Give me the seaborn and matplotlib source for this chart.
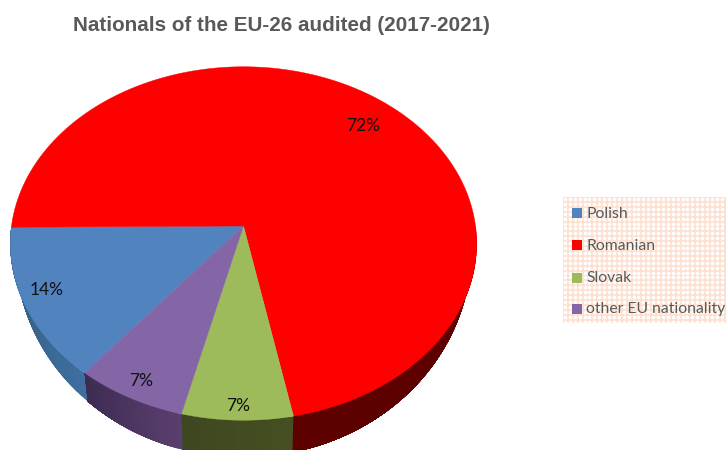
import numpy as np
import matplotlib
matplotlib.use("Agg")
import matplotlib.pyplot as plt
from matplotlib.colors import to_rgb
from matplotlib.patches import Rectangle
import seaborn as sns

# Shares of audited EU-26 nationals, in percent
nationalities = ["Polish", "Romanian", "Slovak", "other EU nationality"]
shares = [14, 72, 7, 7]
share_labels = ["14%", "72%", "7%", "7%"]
title_text = "Nationals of the EU-26 audited (2017-2021)"

top_colors = ["#5183bf", "#ff0000", "#9dbb5b", "#8465a6"]
wall_light = ["#3f6f9e", "#5c0000", "#454f22", "#5a3f6e"]
wall_dark = ["#2f5577", "#5c0000", "#3e4720", "#3c2c52"]
palette = sns.color_palette(top_colors)

sns.set_theme(style="white")
plt.rcParams["font.family"] = ["Lato", "DejaVu Sans"]

W, H = 726, 450
fig = plt.figure(figsize=(W / 100, H / 100), dpi=100, facecolor="white")
ax = fig.add_axes([0, 0, 1, 1])
ax.set_xlim(0, W)
ax.set_ylim(H, 0)
ax.axis("off")

# Perspective projection of the pie disc onto the canvas
CX, CY, A, B, K = 243.5, 226.0, 232.0, 175.0, 0.099


def project_top(theta):
    u, v = np.cos(theta), np.sin(theta)
    d = 1 + K * v
    return CX + A * u / d, CY - B * v / d


def project_base(theta):
    x, y = project_top(theta)
    return CX + 0.98 * (x - CX), y - 37 * np.sin(theta)


# Slice boundaries run clockwise from the lower left
start = np.deg2rad(230.8)
fractions = np.array(shares, dtype=float) / sum(shares)
edges = start - 2 * np.pi * np.concatenate([[0], np.cumsum(fractions)])

# Side wall: front part of the disc, shaded in overlapping strips
for i in range(len(shares)):
    th = np.linspace(edges[i], edges[i + 1], 400)
    th = th[np.sin(th) < 0]
    if len(th) < 2:
        continue
    light, dark = np.array(to_rgb(wall_light[i])), np.array(to_rgb(wall_dark[i]))
    chunks = np.array_split(np.arange(len(th)), 30)
    for n, idx in enumerate(chunks):
        # each strip runs on to the end so no seams show between strips
        seg = th[idx[0]:]
        xt, yt = project_top(seg)
        xb, yb = project_base(seg)
        col = light + (dark - light) * (n / (len(chunks) - 1))
        ax.fill(np.r_[xt, xb[::-1]], np.r_[yt, yb[::-1]], color=col, lw=0, zorder=2)

# Top face of each slice
for i in range(len(shares)):
    th = np.linspace(edges[i], edges[i + 1], 300)
    x, y = project_top(th)
    ax.fill(np.r_[CX, x], np.r_[CY, y], color=palette[i], lw=0.3, zorder=3)

# Percentage labels, placed near each slice's mid-angle
label_radius = [0.89, 0.82, 0.93, 0.905]
label_turn = np.deg2rad([-2.5, -2.5, 0.0, 0.0])
mids = (edges[:-1] + edges[1:]) / 2 + label_turn
for i, text in enumerate(share_labels):
    r = label_radius[i]
    u, v = r * np.cos(mids[i]), r * np.sin(mids[i])
    d = 1 + K * v
    ax.text(CX + A * u / d, CY - B * v / d + 1, text, ha="center", va="center",
            fontsize=12.5, color="#111111", zorder=5)

ax.text(281, 25.5, title_text, ha="center", va="center", fontsize=14.9,
        fontweight="bold", family="Liberation Sans", color="#595959")

# Legend panel with a dotted peach fill
px0, py0, px1, py1 = 563, 197, 726, 323
ax.add_patch(Rectangle((px0, py0), px1 - px0, py1 - py0, fc="#fde0cf", ec="none", zorder=1))
dx, dy = np.meshgrid(np.arange(px0 + 2, px1, 4.9), np.arange(py0 + 2, py1, 4.9))
ax.scatter(dx.ravel(), dy.ravel(), s=7, c="white", linewidths=0, zorder=1.5)

legend_y = [213, 245, 278, 309]
for name, color, y in zip(nationalities, palette, legend_y):
    ax.add_patch(Rectangle((572, y - 5), 10, 10, fc=color, ec="none", zorder=4))
    ax.text(586, y + 0.5, name, ha="left", va="center", fontsize=11.3, color="#595959", zorder=4)

fig.savefig("out.png", dpi=100)
